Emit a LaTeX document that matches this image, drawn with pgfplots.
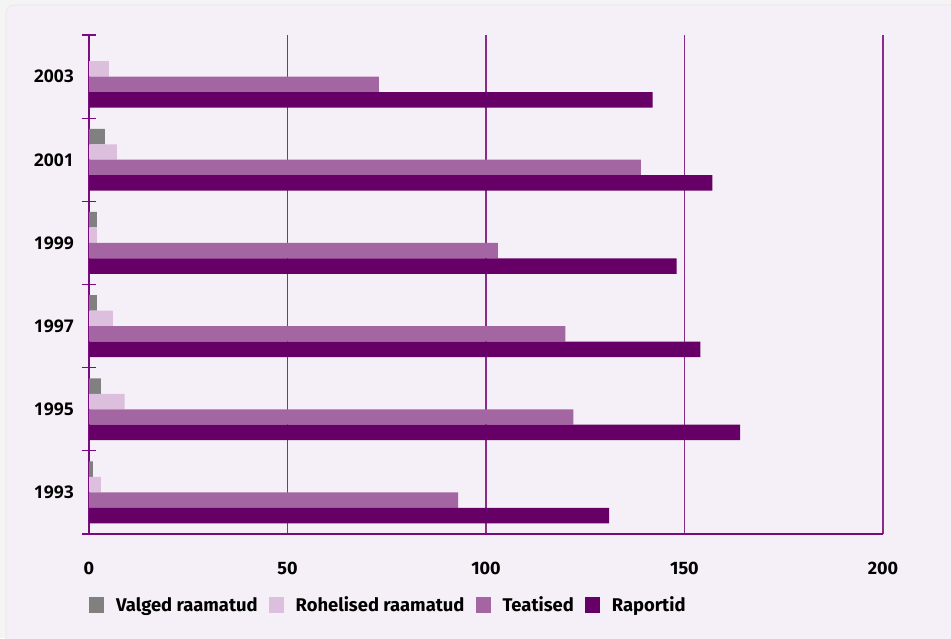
\documentclass[border=0pt]{standalone}
\usepackage{pgfplots}
\usepackage{pgfplotstable}
\pgfplotsset{compat=1.18}
\usepackage{fontspec}
\setmainfont{Fira Sans}
\newfontfamily\yearfont{Open Sans}
\definecolor{bgcol}{HTML}{F5F0F7}
\definecolor{outercol}{HTML}{F4F4F4}
\definecolor{axiscol}{HTML}{7A0A80}
\definecolor{gridcol}{HTML}{8A2A8C}
\definecolor{cvalged}{HTML}{808080}
\definecolor{crohe}{HTML}{DCBFDC}
\definecolor{cteat}{HTML}{A366A3}
\definecolor{crap}{HTML}{660066}
\pgfplotstableread{
y valged rohelised teatised raportid
0 1 3 93 131
1 3 9 122 164
2 2 6 120 154
3 2 2 103 148
4 4 7 139 157
5 0 5 73 142
}\data
\begin{document}
\begin{tikzpicture}[x=1pt,y=1pt]
\useasboundingbox (0,0) rectangle (951,638);
\fill[outercol] (0,0) rectangle (951,638);
\fill[bgcol, rounded corners=8pt, draw=black!8, line width=1pt] (6,-10) rectangle (965,633);
\begin{axis}[
  at={(89pt,104pt)}, anchor=south west,
  scale only axis, width=794pt, height=499pt,
  xbar, bar width=0.186,
  xmin=0, xmax=200, ymin=-0.5, ymax=5.5,
  axis x line=bottom, axis y line=left,
  axis line style={-, draw=axiscol, line width=1.3pt},
  xtick={0,50,100,150,200},
  xmajorgrids, grid style={draw=gridcol, line width=1.4pt},
  major tick length=0pt,
  ytick={0,1,2,3,4,5},
  yticklabels={1993,1995,1997,1999,2001,2003},
  extra y ticks={-0.5,0.5,1.5,2.5,3.5,4.5,5.5},
  extra y tick labels={},
  extra y tick style={tick align=center, major tick length=15pt, major grid style={draw=none}, tick style={draw=axiscol, line width=1.3pt}},
  /pgf/number format/assume math mode=true,
  xticklabel style={inner sep=0pt, yshift=-28pt, font=\fontsize{18}{20}\selectfont\bfseries},
  yticklabel style={inner sep=0pt, xshift=-15pt, font=\yearfont\fontsize{17.5}{20}\selectfont\bfseries},
  legend columns=4,
  legend style={at={(axis description cs:0,0)}, anchor=west, yshift=-71pt,
    draw=none, fill=none, inner sep=0pt,
    font=\fontsize{18.4}{21}\selectfont\bfseries,
    nodes={inner sep=0pt, anchor=west},
    /tikz/every odd column/.append style={column sep=12pt},
    /tikz/every even column/.append style={column sep=11pt}},
  legend image code/.code={\fill[#1] (0pt,-8pt) rectangle (15pt,8pt);},
]
\addplot[draw=none, fill=cvalged, bar shift=0.279] table[x=valged, y=y] {\data};
\addplot[draw=none, fill=crohe, bar shift=0.093] table[x=rohelised, y=y] {\data};
\addplot[draw=none, fill=cteat, bar shift=-0.093] table[x=teatised, y=y] {\data};
\addplot[draw=none, fill=crap, bar shift=-0.279] table[x=raportid, y=y] {\data};
\legend{Valged raamatud, Rohelised raamatud, Teatised, Raportid}
\end{axis}
\end{tikzpicture}
\end{document}
